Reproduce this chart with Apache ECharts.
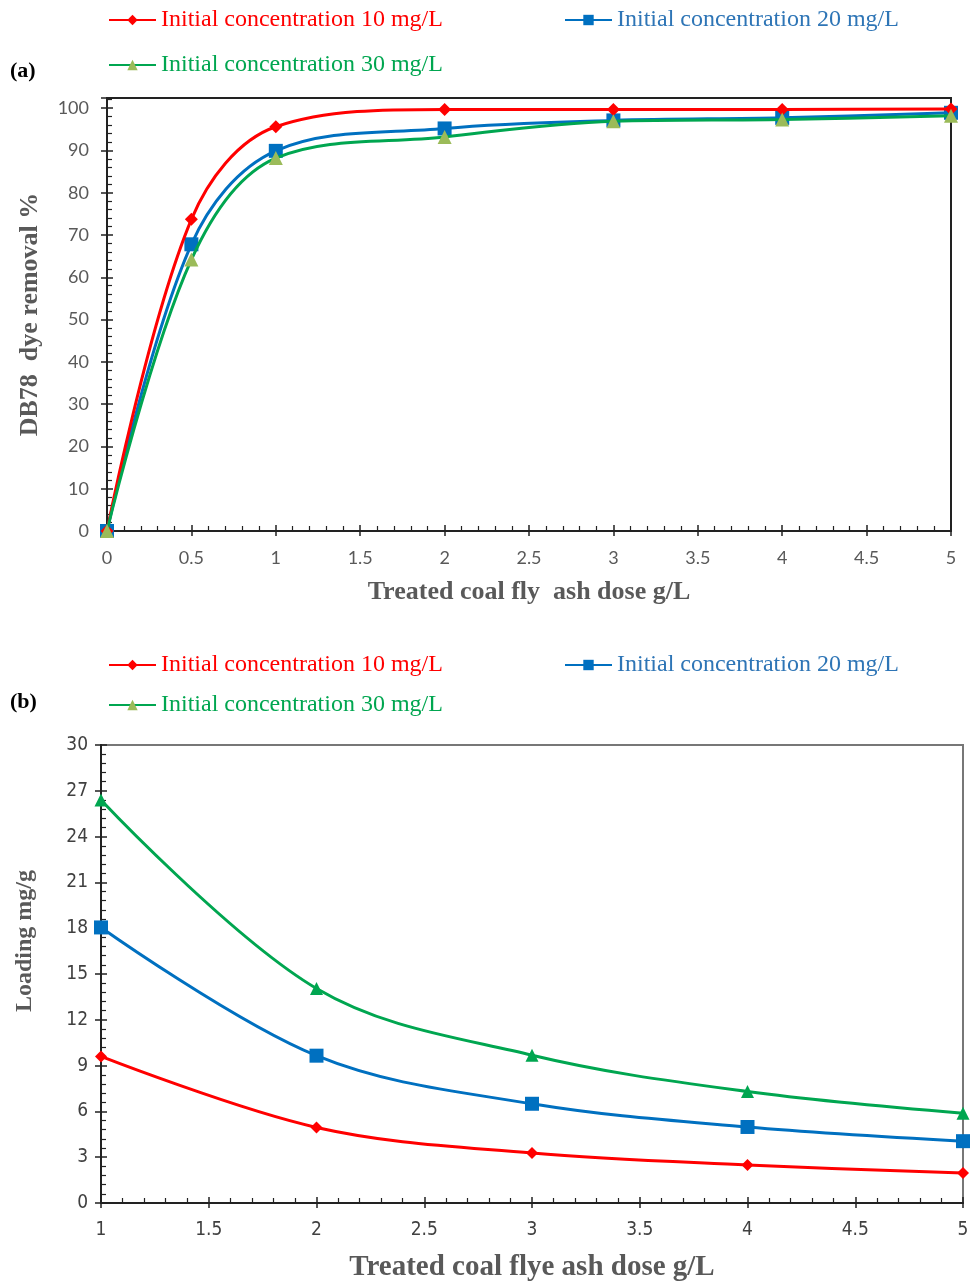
<!DOCTYPE html>
<html><head><meta charset="utf-8">
<script src="https://cdn.jsdelivr.net/npm/echarts@6/dist/echarts.min.js"></script>
<style>html,body{margin:0;padding:0;background:#fff}#c{width:970px;height:1284px}</style>
</head><body><div id="c"></div>
<script>
// Panel (a): dye removal %
const doseA = [0, 0.5, 1, 2, 3, 4, 5];
const removal10 = [0, 73.7, 95.6, 99.7, 99.7, 99.7, 99.8];
const removal20 = [0, 67.8, 89.9, 95.2, 97.1, 97.7, 98.9];
const removal30 = [0, 64.2, 88.2, 93.2, 96.9, 97.3, 98.2];
// Panel (b): loading mg/g
const doseB = [1, 2, 3, 4, 5];
const loading10 = [9.6, 4.95, 3.27, 2.49, 1.96];
const loading20 = [18.05, 9.65, 6.5, 4.98, 4.05];
const loading30 = [26.4, 14.05, 9.68, 7.3, 5.88];

const names = ['Initial concentration 10 mg/L', 'Initial concentration 20 mg/L', 'Initial concentration 30 mg/L'];

const RED = '#FF0000', BLUE = '#0070C0', GREEN = '#00A650', OLIVE = '#9BBB59';
const pair = (xs, ys) => xs.map((x, i) => [x, ys[i]]);

const chart = echarts.init(document.getElementById('c'), null, {renderer: 'canvas'});

function mkX(grid, min, max, opts) {
  return Object.assign({
    type: 'value', gridIndex: grid, min: min, max: max, interval: 0.5, position: 'bottom',
    splitLine: {show: false}
  }, opts);
}
function mkY(grid, min, max, interval, opts) {
  return Object.assign({
    type: 'value', gridIndex: grid, min: min, max: max, interval: interval, position: 'left',
    splitLine: {show: false}
  }, opts);
}

const tickFontA = {color: '#595959', fontFamily: 'Lato, "Liberation Sans", sans-serif', fontSize: 18};
const tickFontB = {color: '#404040', fontFamily: '"Liberation Sans Narrow", "DejaVu Sans Condensed", sans-serif', fontSize: 19};
const titleFont = (size, extra) => Object.assign({color: '#595959', fontFamily: '"Liberation Serif", serif', fontWeight: 'bold', fontSize: size}, extra || {});

const legendText = {fontFamily: '"Liberation Serif", serif', fontSize: 24};
function lg(left, top, idx, color) {
  return {left: left, top: top, padding: 0, itemWidth: 47, itemHeight: 13, itemGap: 5,
          data: [{name: names[idx], textStyle: {color: color}}], textStyle: legendText};
}

const option = {
  animation: false,
  backgroundColor: '#fff',
  grid: [
    {left: 107, right: 19, top: 98, bottom: 753, outerBoundsMode: 'none', containLabel: false,
     show: true, borderColor: '#222', borderWidth: 2, backgroundColor: 'transparent'},
    {left: 101, right: 7, top: 745, bottom: 81, outerBoundsMode: 'none', containLabel: false,
     show: true, borderColor: '#777', borderWidth: 2, backgroundColor: 'transparent'}
  ],
  legend: [
    lg(108, 8, 0, RED), lg(564, 8, 1, '#2E75B6'), lg(108, 53, 2, GREEN),
    lg(108, 653, 0, RED), lg(564, 653, 1, '#2E75B6'), lg(108, 693, 2, GREEN)
  ],
  graphic: [
    {type: 'text', left: 10, top: 60, style: {text: '(a)', font: 'bold 22px "Liberation Serif", serif', fill: '#000'}},
    {type: 'text', left: 10, top: 691, style: {text: '(b)', font: 'bold 22px "Liberation Serif", serif', fill: '#000'}}
  ],
  xAxis: [
    mkX(0, 0, 5, {
      name: 'Treated coal fly  ash dose g/L', nameLocation: 'middle', nameGap: 48, nameTextStyle: titleFont(26),
      axisLine: {show: true, lineStyle: {color: '#222', width: 2}},
      axisTick: {show: true, inside: true, length: 6, lineStyle: {color: '#222', width: 1.5}},
      minorTick: {show: true, splitNumber: 5, length: 5, lineStyle: {color: '#222', width: 1.2}},
      axisLabel: Object.assign({margin: 18}, tickFontA)
    }),
    mkX(0, 0, 5, {
      axisLine: {show: false}, axisLabel: {show: false},
      axisTick: {show: true, inside: false, length: 5, lineStyle: {color: '#222', width: 1.5}}
    }),
    mkX(1, 1, 5, {
      name: 'Treated coal flye ash dose g/L', nameLocation: 'middle', nameGap: 50, nameTextStyle: titleFont(29),
      axisLine: {show: true, lineStyle: {color: '#222', width: 2}},
      axisTick: {show: true, inside: true, length: 6, lineStyle: {color: '#222', width: 1.5}},
      minorTick: {show: true, splitNumber: 5, length: 5, lineStyle: {color: '#222', width: 1.2}},
      axisLabel: Object.assign({margin: 18}, tickFontB)
    }),
    mkX(1, 1, 5, {
      axisLine: {show: false}, axisLabel: {show: false},
      axisTick: {show: true, inside: false, length: 5, lineStyle: {color: '#222', width: 1.5}}
    })
  ],
  yAxis: [
    mkY(0, 0, 102.4, 10, {
      name: 'DB78  dye removal %', nameLocation: 'middle', nameGap: 64, nameTextStyle: titleFont(26),
      axisLine: {show: true, lineStyle: {color: '#222', width: 2}},
      axisTick: {show: true, inside: true, length: 6, lineStyle: {color: '#222', width: 1.5}},
      minorTick: {show: true, splitNumber: 5, length: 5, lineStyle: {color: '#222', width: 1.2}},
      axisLabel: Object.assign({margin: 18, showMaxLabel: false}, tickFontA)
    }),
    mkY(0, 0, 102.4, 10, {
      axisLine: {show: false}, axisLabel: {show: false},
      axisTick: {show: true, inside: false, length: 6, lineStyle: {color: '#222', width: 1.5}}
    }),
    mkY(1, 0, 30, 3, {
      name: 'Loading mg/g', nameLocation: 'middle', nameGap: 64, nameTextStyle: titleFont(24, {padding: [0, 0, 0, 66]}),
      axisLine: {show: true, lineStyle: {color: '#222', width: 2}},
      axisTick: {show: true, inside: true, length: 6, lineStyle: {color: '#222', width: 1.5}},
      minorTick: {show: true, splitNumber: 5, length: 5, lineStyle: {color: '#222', width: 1.2}},
      axisLabel: Object.assign({margin: 13}, tickFontB)
    }),
    mkY(1, 0, 30, 3, {
      axisLine: {show: false}, axisLabel: {show: false},
      axisTick: {show: true, inside: false, length: 6, lineStyle: {color: '#222', width: 1.5}}
    })
  ],
  series: [
    {name: names[0], type: 'line', xAxisIndex: 0, yAxisIndex: 0, smooth: 0.35, data: pair(doseA, removal10),
     symbol: 'diamond', symbolSize: 13, itemStyle: {color: RED}, lineStyle: {color: RED, width: 3}, z: 4},
    {name: names[1], type: 'line', xAxisIndex: 0, yAxisIndex: 0, smooth: 0.35, data: pair(doseA, removal20),
     symbol: 'rect', symbolSize: 14, itemStyle: {color: BLUE}, lineStyle: {color: BLUE, width: 3}, z: 3},
    {name: names[2], type: 'line', xAxisIndex: 0, yAxisIndex: 0, smooth: 0.35, data: pair(doseA, removal30),
     symbol: 'triangle', symbolSize: 14, itemStyle: {color: OLIVE}, lineStyle: {color: GREEN, width: 3}, z: 5},
    {name: names[0], type: 'line', xAxisIndex: 2, yAxisIndex: 2, smooth: 0.35, data: pair(doseB, loading10),
     symbol: 'diamond', symbolSize: 12, itemStyle: {color: RED}, lineStyle: {color: RED, width: 3}},
    {name: names[1], type: 'line', xAxisIndex: 2, yAxisIndex: 2, smooth: 0.35, data: pair(doseB, loading20),
     symbol: 'rect', symbolSize: 14, itemStyle: {color: BLUE}, lineStyle: {color: BLUE, width: 3}},
    {name: names[2], type: 'line', xAxisIndex: 2, yAxisIndex: 2, smooth: 0.35, data: pair(doseB, loading30),
     symbol: 'triangle', symbolSize: 13, itemStyle: {color: GREEN}, lineStyle: {color: GREEN, width: 3}}
  ]
};
chart.setOption(option);
</script>
</body></html>
